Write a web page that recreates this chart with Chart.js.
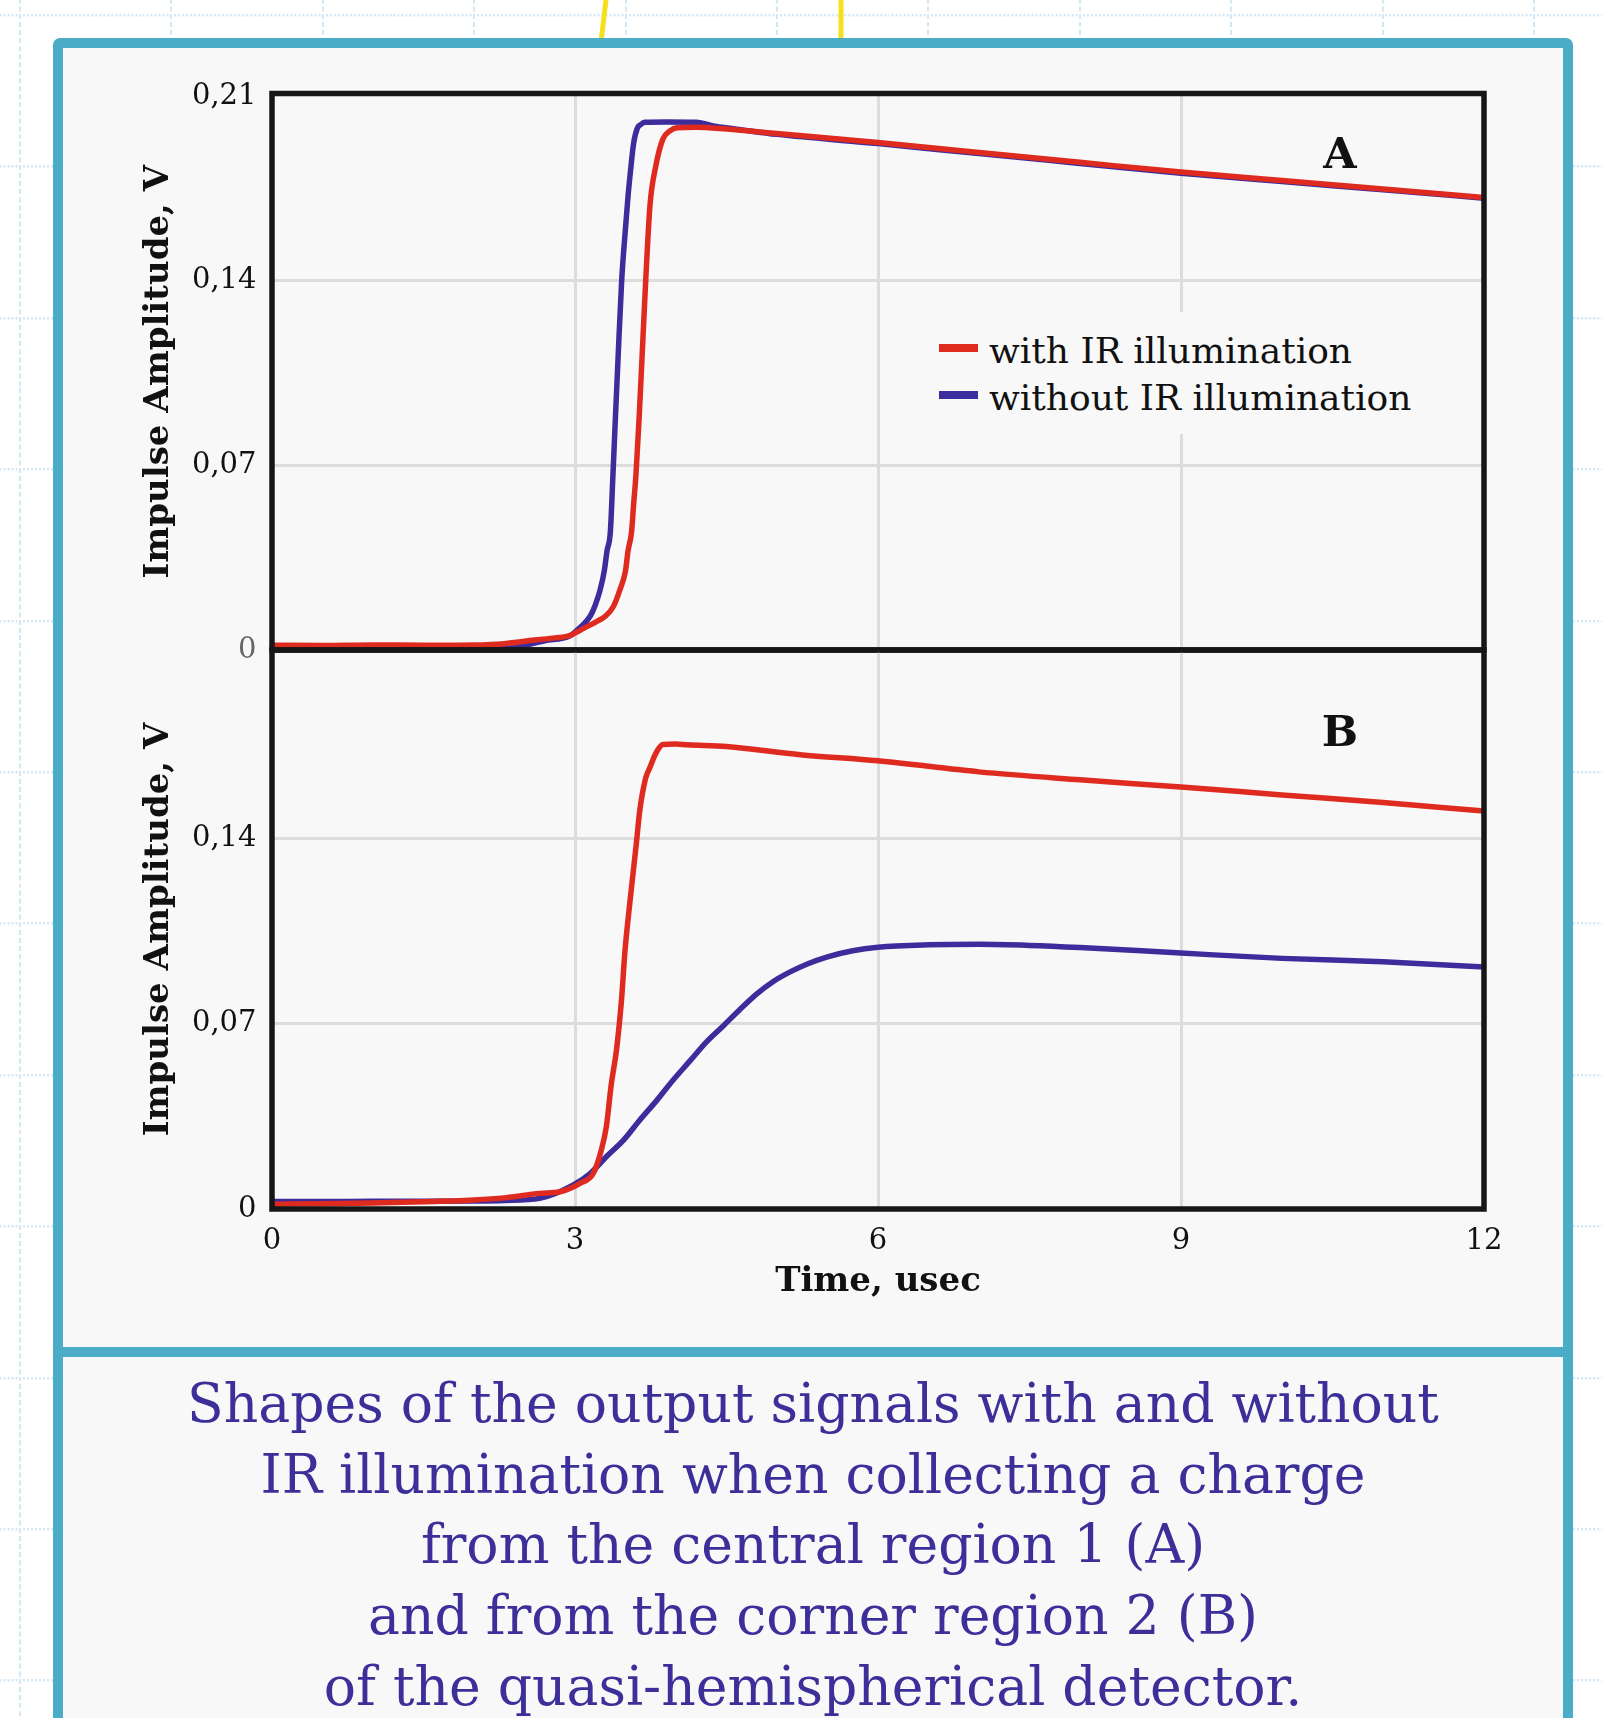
<!DOCTYPE html>
<html>
<head>
<meta charset="utf-8">
<script src="https://cdn.jsdelivr.net/npm/chart.js@4.4.1/dist/chart.umd.min.js"></script>
<style>
  html, body { margin: 0; padding: 0; }
  body {
    width: 1602px; height: 1718px; overflow: hidden; position: relative;
    background-color: #fff;
    background-image: url("data:image/svg+xml,%3Csvg xmlns='http://www.w3.org/2000/svg' width='151.4' height='151.4'%3E%3Cline x1='1' y1='0' x2='1' y2='151.4' stroke='%23d3e8f6' stroke-width='2' stroke-dasharray='5 3'/%3E%3Cline x1='0' y1='1' x2='151.4' y2='1' stroke='%23d3e8f6' stroke-width='3' stroke-dasharray='2 2'/%3E%3C/svg%3E");
    background-size: 151.4px 151.4px;
    background-position: 19px 14px;
    font-family: 'DejaVu Serif', serif;
  }
  #ties { position: absolute; left: 0; top: 0; }
  .frame {
    position: absolute; left: 53px; top: 38px; width: 1520px; height: 1760px;
    box-sizing: border-box; border: 10px solid #4aacc6; border-radius: 7px;
    background: #f8f8f8;
  }
  .divider { position: absolute; left: 53px; top: 1347px; width: 1520px; height: 10px; background: #4aacc6; }
  canvas { position: absolute; }
  #chartA { left: 120px; top: 60px; }
  #chartB { left: 120px; top: 630px; }
  .panel-tag {
    position: absolute; left: 1290px; width: 100px; text-align: center;
    font-weight: bold; font-size: 43px; line-height: 43px; color: #111;
  }
  #legend-container {
    position: absolute; left: 925px; top: 312px; width: 510px; height: 122px;
    background: #f8f8f8;
  }
  #legend-container .swatch { position: absolute; left: 14px; width: 39px; height: 8px; }
  #legend-container .label {
    position: absolute; left: 64px; font-size: 36px; line-height: 36px; color: #111; white-space: nowrap;
  }
  .caption {
    position: absolute; left: 63px; top: 1369px; width: 1500px; text-align: center;
    font-size: 53.6px; line-height: 70.7px; color: #3d2f99;
  }
</style>
</head>
<body>
<svg id="ties" width="1602" height="42">
  <line x1="606" y1="0" x2="601" y2="42" stroke="#f6df1c" stroke-width="5"/>
  <line x1="841" y1="0" x2="841" y2="42" stroke="#f6df1c" stroke-width="5"/>
</svg>
<div class="frame"></div>
<div class="divider"></div>

<canvas id="chartA" width="1400" height="610"></canvas>
<canvas id="chartB" width="1400" height="700"></canvas>

<div class="panel-tag" style="top:132px">A</div>
<div class="panel-tag" style="top:710px">B</div>
<div id="legend-container"></div>

<div class="caption">Shapes of the output signals with and without<br>IR illumination when collecting a charge<br>from the central region 1 (A)<br>and from the corner region 2 (B)<br>of the quasi-hemispherical detector.</div>

<script>
const X_TICKS = [0, 3, 6, 9, 12];
const A_Y_TICKS = [0, 0.07, 0.14, 0.21];
const B_Y_TICKS = [0, 0.07, 0.14];
const SERIES_LABELS = ['with IR illumination', 'without IR illumination'];
const RED = '#df2a1f';
const BLUE = '#3c2c9c';

// panel A: central region 1
const A_RED_T = [0, 0.5, 1, 1.5, 2, 2.3, 2.6, 2.8, 2.95, 3.1, 3.2, 3.3, 3.38, 3.446, 3.5, 3.525, 3.56, 3.58, 3.604, 3.635, 3.663, 3.70, 3.743, 3.80, 3.87, 3.94, 4.01, 4.2, 4.5, 5, 6, 7, 8, 9, 10, 11, 12];
const A_RED_V = [0.0018, 0.0017, 0.0019, 0.0018, 0.0019, 0.0024, 0.0038, 0.0046, 0.0055, 0.0085, 0.0105, 0.0128, 0.0165, 0.023, 0.030, 0.0376, 0.0448, 0.055, 0.0667, 0.088, 0.1104, 0.14, 0.1688, 0.1835, 0.1937, 0.1968, 0.198, 0.1982, 0.1975, 0.1958, 0.1924, 0.1886, 0.1849, 0.1812, 0.1780, 0.1748, 0.1716];

const A_BLUE_T = [0, 1, 2, 2.3, 2.5, 2.7, 2.95, 3.05, 3.15, 3.2, 3.25, 3.29, 3.317, 3.35, 3.376, 3.40, 3.426, 3.462, 3.50, 3.525, 3.55, 3.58, 3.617, 3.65, 3.69, 3.9, 4.2, 4.4, 4.6, 5, 6, 7, 8, 9, 10, 11, 12];
const A_BLUE_V = [0.0004, 0.0004, 0.0005, 0.0008, 0.0018, 0.0035, 0.0054, 0.0085, 0.0128, 0.017, 0.023, 0.030, 0.0376, 0.0448, 0.0667, 0.088, 0.1104, 0.14, 0.160, 0.172, 0.1818, 0.192, 0.1978, 0.1992, 0.2001, 0.2002, 0.2001, 0.1985, 0.1975, 0.1955, 0.1920, 0.1882, 0.1845, 0.1808, 0.1776, 0.1745, 0.1713];

// panel B: corner region 2
const B_RED_T = [0, 0.5, 1, 1.5, 2, 2.3, 2.65, 2.85, 3.05, 3.18, 3.26, 3.31, 3.36, 3.41, 3.46, 3.495, 3.545, 3.61, 3.64, 3.70, 3.74, 3.80, 3.87, 4.0, 4.11, 4.5, 5.23, 6, 7, 8, 9, 10, 11, 12];
const B_RED_V = [0.0018, 0.0020, 0.0023, 0.0027, 0.0034, 0.0042, 0.0059, 0.0065, 0.0097, 0.0134, 0.0222, 0.031, 0.0473, 0.0598, 0.0787, 0.0975, 0.1163, 0.1389, 0.150, 0.1627, 0.1665, 0.172, 0.1753, 0.1755, 0.1752, 0.1746, 0.1715, 0.1692, 0.1650, 0.1620, 0.1593, 0.1563, 0.1534, 0.1502];

const B_BLUE_T = [0, 0.5, 1, 1.5, 2, 2.3, 2.65, 2.98, 3.15, 3.31, 3.48, 3.64, 3.81, 3.97, 4.14, 4.30, 4.47, 4.63, 4.80, 4.96, 5.13, 5.3, 5.5, 5.75, 6.0, 6.5, 7, 7.5, 8, 9, 10, 11, 12];
const B_BLUE_V = [0.0028, 0.0028, 0.0029, 0.0029, 0.003, 0.0032, 0.004, 0.009, 0.0134, 0.0197, 0.026, 0.0335, 0.041, 0.0486, 0.056, 0.063, 0.0692, 0.0752, 0.0812, 0.0858, 0.0895, 0.0925, 0.0952, 0.0975, 0.0988, 0.0997, 0.0999, 0.0995, 0.0987, 0.0966, 0.0946, 0.0933, 0.0913];

Chart.defaults.font.family = "'DejaVu Serif', serif";
Chart.defaults.color = '#111';

const pairs = (t, v) => t.map((x, i) => ({ x, y: v[i] }));

const plotFrame = {
  id: 'plotFrame',
  afterDatasetsDraw(chart) {
    const { ctx, chartArea: { left, top, right, bottom } } = chart;
    ctx.save();
    ctx.strokeStyle = '#161616';
    ctx.lineWidth = 5.5;
    ctx.strokeRect(left, top, right - left, bottom - top);
    ctx.restore();
  }
};

const htmlLegendPlugin = {
  id: 'htmlLegend',
  afterUpdate(chart, args, options) {
    const box = document.getElementById(options.containerID);
    if (!box) return;
    box.innerHTML = '';
    chart.data.datasets.forEach((ds, i) => {
      const sw = document.createElement('span');
      sw.className = 'swatch';
      sw.style.background = ds.borderColor;
      sw.style.top = (31.5 + i * 47.5) + 'px';
      const txt = document.createElement('span');
      txt.className = 'label';
      txt.textContent = ds.label;
      txt.style.top = (20.5 + i * 47.5) + 'px';
      box.appendChild(sw);
      box.appendChild(txt);
    });
  }
};

const line = (label, color, data) => ({
  label, data,
  borderColor: color, backgroundColor: color,
  borderWidth: 5.5, pointRadius: 0,
  cubicInterpolationMode: 'monotone',
  borderJoinStyle: 'round', borderCapStyle: 'round'
});

const makePanel = (id, red, blue, yTicks, bottomAxis, padTop, padBottom, withLegend) => {
  const zeroGrey = !bottomAxis;
  return new Chart(document.getElementById(id), {
    type: 'line',
    data: {
      datasets: [
        line(SERIES_LABELS[0], RED, red),
        line(SERIES_LABELS[1], BLUE, blue)
      ]
    },
    options: {
      responsive: false,
      animation: false,
      events: [],
      layout: { padding: { top: padTop, right: 36, bottom: padBottom, left: 0 } },
      plugins: {
        legend: { display: false },
        tooltip: { enabled: false },
        htmlLegend: withLegend ? { containerID: 'legend-container' } : false
      },
      scales: {
        x: {
          type: 'linear', min: 0, max: 12,
          afterBuildTicks: (s) => { s.ticks = X_TICKS.map(value => ({ value })); },
          afterFit: (s) => { s.height = bottomAxis ? 121 : 0; },
          border: { display: false },
          grid: {
            drawTicks: false, lineWidth: 3,
            color: (c) => (c.tick && (c.tick.value === 0 || c.tick.value === 12)) ? 'rgba(0,0,0,0)' : '#dcdcdc'
          },
          ticks: { display: bottomAxis, padding: 15, font: { size: 29 }, color: '#111' },
          title: {
            display: bottomAxis, text: 'Time, usec', color: '#111',
            font: { size: 34, weight: 'bold' }, padding: { top: 0, bottom: 27.6 }
          }
        },
        y: {
          min: 0, max: 0.211,
          afterBuildTicks: (s) => { s.ticks = yTicks.map(value => ({ value })); },
          afterFit: (s) => { s.width = 152; s.paddingTop = 0; s.paddingBottom = 0; },
          border: { display: false },
          grid: {
            drawTicks: false, lineWidth: 3,
            color: (c) => (c.tick && (c.tick.value === 0 || c.tick.value === 0.21)) ? 'rgba(0,0,0,0)' : '#dcdcdc'
          },
          ticks: {
            padding: 15.5, font: { size: 29 },
            color: (c) => (zeroGrey && c.tick && c.tick.value === 0) ? '#666' : '#111',
            callback: (v) => v === 0 ? '0' : v.toFixed(2).replace('.', ',')
          },
          title: {
            display: true, text: 'Impulse Amplitude, V', color: '#111',
            font: { size: 34, weight: 'bold' }, padding: { top: 18.6, bottom: 0 }
          }
        }
      }
    },
    plugins: [plotFrame, htmlLegendPlugin]
  });
};

makePanel('chartA', pairs(A_RED_T, A_RED_V), pairs(A_BLUE_T, A_BLUE_V), A_Y_TICKS, false, 33.5, 20, true);
makePanel('chartB', pairs(B_RED_T, B_RED_V), pairs(B_BLUE_T, B_BLUE_V), B_Y_TICKS, true, 20, 0, false);
</script>
</body>
</html>
